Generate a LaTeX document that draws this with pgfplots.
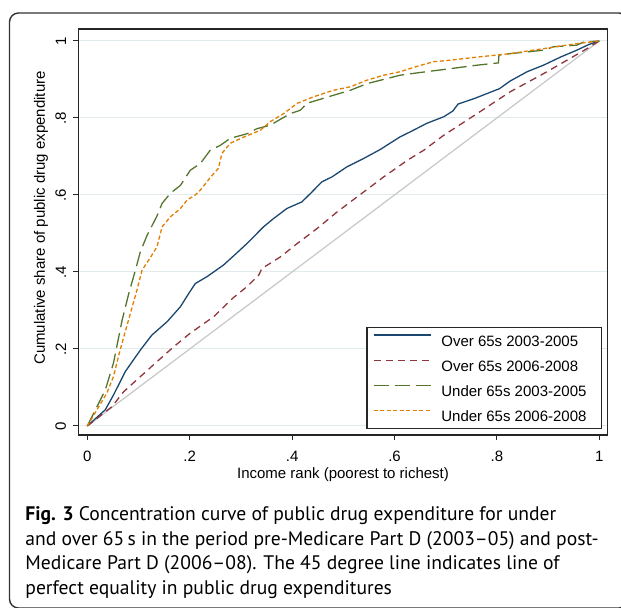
\documentclass[border=0pt]{standalone}
\usepackage{fontspec}
\setmainfont{Liberation Sans}
\newfontfamily\capfont[Ligatures=TeX]{PT Sans}
\usepackage{pgfplots}
\pgfplotsset{compat=1.18}

\definecolor{stnavy}{RGB}{26,71,111}
\definecolor{stmaroon}{RGB}{144,53,59}
\definecolor{stgreen}{RGB}{85,117,47}
\definecolor{storange}{RGB}{227,126,0}
\definecolor{stgrid}{RGB}{225,235,238}

\begin{document}
\begin{tikzpicture}
% page = 621x607 px at 0.5pt per px
\useasboundingbox (0pt,0pt) rectangle (310.5pt,303.5pt);
\draw[black!80, line width=0.7pt, rounded corners=4.5pt] (4.75pt,-0.5pt) rectangle (314pt,297pt);

\begin{axis}[
  at={(39.25pt,86pt)}, anchor=south west,
  scale only axis, width=264.5pt, height=203pt,
  xmin=-0.0172, xmax=1.016, ymin=-0.0234, ymax=1.031,
  axis line style={black!85, line width=0.8pt},
  xtick={0,0.2,0.4,0.6,0.8,1}, xticklabels={0,.2,.4,.6,.8,1},
  ytick={0,0.2,0.4,0.6,0.8,1}, yticklabels={0,.2,.4,.6,.8,1},
  tick align=outside, major tick length=2.5pt,
  xtick pos=bottom, ytick pos=left,
  every tick/.style={black!85, line width=0.5pt},
  ymajorgrids, grid style={stgrid, line width=0.5pt},
  /pgf/number format/assume math mode=true,
  tick label style={font=\fontsize{7.5}{9}\selectfont, inner sep=0pt},
  xticklabel style={anchor=north, yshift=-5.3pt},
  yticklabel style={rotate=90, anchor=south, inner ysep=3.5pt},
  legend style={at={(0.9896,0.0148)}, anchor=south east,
    draw=black!85, line width=0.6pt, inner xsep=3pt, inner ysep=3.6pt,
    font=\fontsize{7.5}{9}\selectfont, row sep=6.75pt,
    nodes={inner sep=0pt, text height=5.5pt, text depth=0pt}},
  legend cell align=left,
  /tikz/every odd column/.append style={column sep=5pt},
  legend image code/.code={\draw[#1] (0pt,2.7pt) -- (28.5pt,2.7pt);},
]
\addplot[black!22, line width=0.6pt, forget plot] coordinates {(0,0) (1,1)};

\addplot[stnavy, line width=0.65pt] coordinates {
(0,0) (0.035,0.042) (0.051,0.080) (0.074,0.141) (0.1035,0.197) (0.126,0.236)
(0.156,0.271) (0.182,0.310) (0.198,0.344) (0.211,0.370) (0.234,0.388) (0.266,0.418)
(0.290,0.447) (0.312,0.474) (0.344,0.517) (0.364,0.539) (0.390,0.565) (0.419,0.582)
(0.436,0.604) (0.458,0.634) (0.478,0.647) (0.507,0.673) (0.540,0.695) (0.572,0.718)
(0.611,0.751) (0.631,0.764) (0.663,0.786) (0.696,0.803) (0.714,0.818) (0.724,0.836)
(0.755,0.850) (0.805,0.876) (0.826,0.896) (0.859,0.920) (0.891,0.937) (0.924,0.958)
(0.956,0.976) (0.980,0.991) (1,1)};

\addplot[stmaroon, line width=0.65pt, dash pattern=on 3.5pt off 2.5pt] coordinates {
(0,0) (0.048,0.050) (0.071,0.089) (0.1035,0.128) (0.136,0.167) (0.169,0.206)
(0.201,0.241) (0.247,0.284) (0.285,0.333) (0.312,0.362) (0.335,0.392) (0.341,0.409)
(0.377,0.439) (0.410,0.474) (0.449,0.513) (0.488,0.556) (0.540,0.608) (0.579,0.647)
(0.625,0.690) (0.657,0.716) (0.696,0.755) (0.761,0.811) (0.826,0.868) (0.891,0.915)
(0.937,0.950) (0.976,0.980) (1,1)};

\addplot[stgreen, line width=0.65pt, dash pattern=on 7.5pt off 3pt] coordinates {
(0,0) (0.035,0.093) (0.051,0.163) (0.068,0.275) (0.081,0.344) (0.094,0.405)
(0.1035,0.452) (0.117,0.496) (0.136,0.545) (0.146,0.578) (0.162,0.604) (0.182,0.625)
(0.201,0.664) (0.221,0.682) (0.240,0.716) (0.260,0.729) (0.279,0.747) (0.312,0.759)
(0.331,0.772) (0.357,0.781) (0.396,0.811) (0.416,0.820) (0.429,0.838) (0.481,0.859)
(0.514,0.872) (0.546,0.889) (0.611,0.911) (0.644,0.917) (0.709,0.928) (0.761,0.937)
(0.803,0.943) (0.804,0.963) (0.826,0.967) (0.891,0.976) (0.911,0.985) (0.956,0.989)
(0.969,0.997) (1,1)};

\addplot[storange, line width=0.65pt, dash pattern=on 2pt off 1.25pt] coordinates {
(0,0) (0.038,0.085) (0.051,0.128) (0.064,0.197) (0.084,0.292) (0.097,0.353)
(0.107,0.405) (0.122,0.435) (0.136,0.465) (0.146,0.517) (0.162,0.543) (0.182,0.565)
(0.195,0.587) (0.211,0.600) (0.221,0.613) (0.240,0.645) (0.256,0.669) (0.263,0.708)
(0.279,0.734) (0.305,0.750) (0.338,0.768) (0.357,0.790) (0.383,0.811) (0.410,0.838)
(0.442,0.855) (0.481,0.872) (0.514,0.881) (0.546,0.898) (0.579,0.911) (0.611,0.920)
(0.644,0.934) (0.676,0.946) (0.709,0.950) (0.761,0.958) (0.826,0.967) (0.891,0.980)
(0.956,0.993) (1,1)};

\legend{\makebox[77pt][l]{Over 65s 2003-2005},
        \makebox[77pt][l]{Over 65s 2006-2008},
        \makebox[77pt][l]{Under 65s 2003-2005},
        \makebox[77pt][l]{Under 65s 2006-2008}}
\end{axis}

\node[anchor=base, font=\fontsize{7.5}{9}\selectfont] at (171.5pt,64.5pt)
  {Income rank (poorest to richest)};
\node[anchor=center, rotate=90, font=\fontsize{7.5}{9}\selectfont] at (20.5pt,194.5pt)
  {Cumulative share of public drug expenditure};

\begin{scope}[every node/.style={anchor=base west, inner sep=0pt,
    font=\capfont\fontsize{9.8}{12}\selectfont}]
\node at (12.5pt,43.5pt) {\textbf{Fig. 3} Concentration curve of public drug expenditure for under};
\node at (12.5pt,31pt) {and over 65\,s in the period pre-Medicare Part D (2003--05) and post-};
\node at (12.5pt,19pt) {Medicare Part D (2006--08). The 45 degree line indicates line of};
\node at (12.5pt,6.5pt) {perfect equality in public drug expenditures};
\end{scope}
\end{tikzpicture}
\end{document}
